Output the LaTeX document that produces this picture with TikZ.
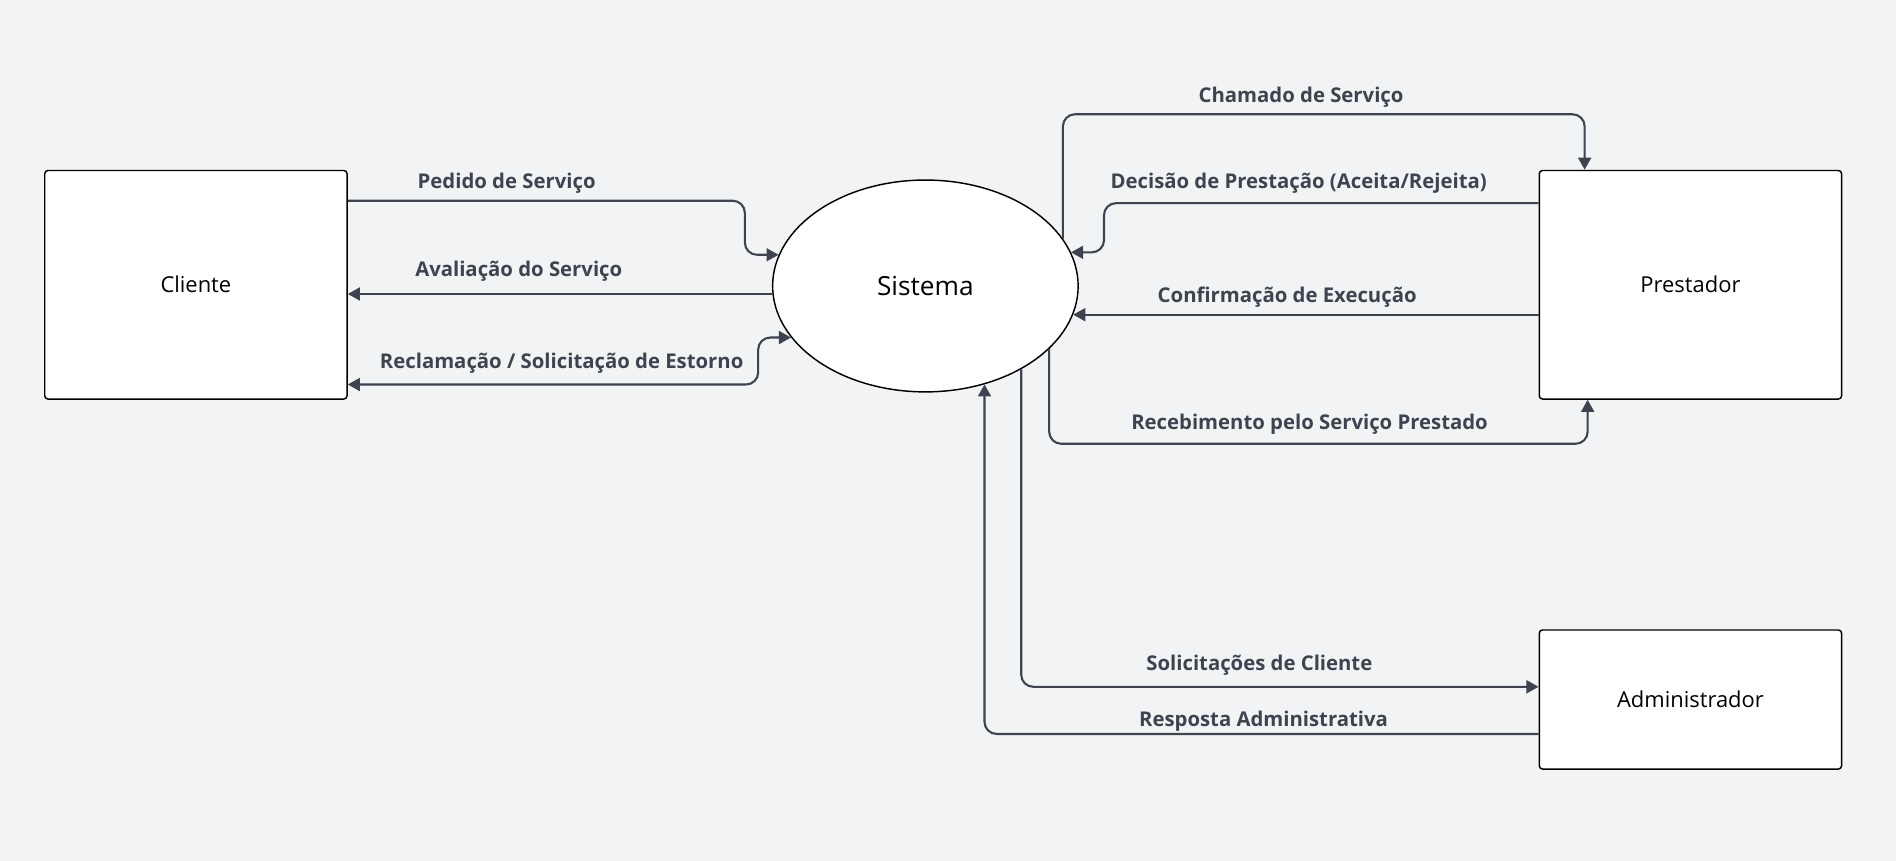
\documentclass[tikz,border=0pt]{standalone}
\usepackage{fontspec}
\setmainfont{Open Sans}
\usetikzlibrary{arrows.meta,shapes.geometric}

\definecolor{bgcol}{RGB}{242,243,245}
\definecolor{flowcol}{RGB}{62,68,79}

\tikzset{every picture/.style={line width=0.75pt}}
\tikzset{
  entity/.style={draw=black,fill=white,rounded corners=2pt,line width=0.9pt,minimum width=187.5pt,font=\fontsize{13.6}{16}\selectfont},
  flow/.style={draw=flowcol,line width=1.3pt,rounded corners=7.5pt,-{Triangle[length=7.5pt,width=8pt]}},
  flowlabel/.style={text=flowcol,inner sep=0.75pt,font=\fontsize{12.6}{15}\selectfont\bfseries}
}

\begin{document}
\begin{tikzpicture}[x=0.75pt,y=0.75pt,yscale=-1,xscale=1]
        %Shape: Background
        \fill [bgcol] (0,0) rectangle (1568,712) ;

        %Shape: Rectangle [id:cliente]
        \node [entity,minimum height=141.75pt] (cliente) at (162,235.5) {Cliente};
        %Shape: Ellipse [id:sistema]
        \node [ellipse,draw=black,fill=white,line width=0.9pt,minimum width=189.5pt,minimum height=131.4pt,inner sep=0pt,font=\fontsize{16.3}{19}\selectfont] (sistema) at (765.3,236.5) {Sistema};
        %Shape: Rectangle [id:prestador]
        \node [entity,minimum height=141.75pt] (prestador) at (1398,235.5) {Prestador};
        %Shape: Rectangle [id:admin]
        \node [entity,minimum height=86.25pt] (admin) at (1398,578.5) {Administrador};

        %Straight Lines [id:pedido]
        \draw [flow] (cliente.east |- 0,166) -- (616,166) -- (616,0 |- sistema.168) -- (sistema.168) ;
        %Straight Lines [id:avaliacao]
        \draw [flow] (sistema.183) -- (cliente.east |- sistema.183) ;
        %Straight Lines [id:reclamacao]
        \draw [flow,{Triangle[length=7.5pt,width=8pt]}-{Triangle[length=7.5pt,width=8pt]}] (cliente.east |- 0,318) -- (627,318) -- (627,0 |- sistema.201.8) -- (sistema.201.8) ;
        %Straight Lines [id:chamado]
        \draw [flow] (sistema.19.7) |- (1310.5,94.5) -- (1310.5,0 |- prestador.north) ;
        %Straight Lines [id:decisao]
        \draw [flow] (prestador.west |- 0,168) -- (913,168) -- (913,0 |- sistema.13.8) -- (sistema.13.8) ;
        %Straight Lines [id:confirmacao]
        \draw [flow] (prestador.west |- sistema.-11.4) -- (sistema.-11.4) ;
        %Straight Lines [id:recebimento]
        \draw [flow] (sistema.-27.2) |- (1313,367) -- (1313,0 |- prestador.south) ;
        %Straight Lines [id:solicitacoes]
        \draw [flow] (sistema.-41) |- (admin.west |- 0,568) ;
        %Straight Lines [id:resposta]
        \draw [flow] (admin.west |- 0,607) -| (sistema.-59.5) ;

        % Text Node
        \node [flowlabel] (lblpedido) at (419,151.5) {Pedido de Serviço};
        % Text Node
        \node [flowlabel] (lblavaliacao) at (429,224.5) {Avaliação do Serviço};
        % Text Node
        \node [flowlabel] (lblreclamacao) at (464.5,300.5) {Reclamação / Solicitação de Estorno};
        % Text Node
        \node [flowlabel] (lblchamado) at (1076,80.5) {Chamado de Serviço};
        % Text Node
        \node [flowlabel] (lbldecisao) at (1074,151.5) {Decisão de Prestação (Aceita/Rejeita)};
        % Text Node
        \node [flowlabel] (lblconfirmacao) at (1064.5,245.5) {Confirmação de Execução};
        % Text Node
        \node [flowlabel] (lblrecebimento) at (1083,350.5) {Recebimento pelo Serviço Prestado};
        % Text Node
        \node [flowlabel] (lblsolicitacoes) at (1041.5,550.5) {Solicitações de Cliente};
        % Text Node
        \node [flowlabel] (lblresposta) at (1045,596.5) {Resposta Administrativa};
\end{tikzpicture}
\end{document}
